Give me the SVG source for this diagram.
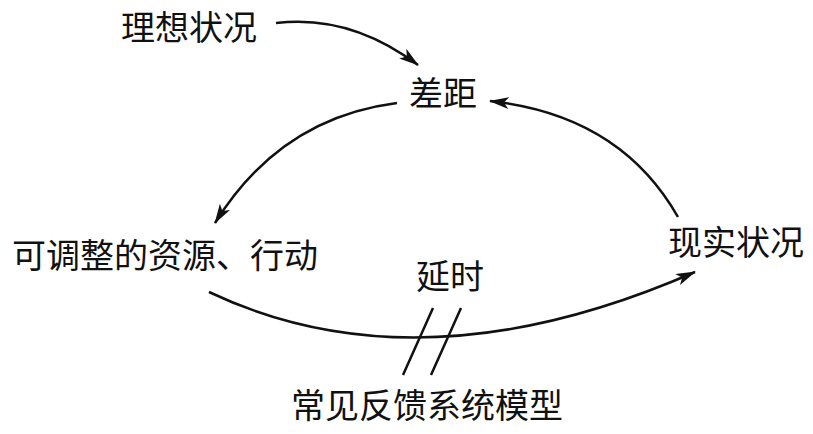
<svg xmlns="http://www.w3.org/2000/svg" width="813" height="434" viewBox="0 0 813 434">
<style>
text{font-family:"Noto Sans CJK SC","Noto Sans",sans-serif;font-size:34px;fill:#111}
.c{fill:none;stroke:#111;stroke-width:2.5}
</style>
<defs>
<marker id="ah" viewBox="0 0 20 12" refX="19" refY="6" markerWidth="20" markerHeight="12" markerUnits="userSpaceOnUse" orient="auto">
<path d="M0,0 L20,6 L0,12 L5,6 Z" fill="#111"/>
</marker>
</defs>
<rect width="813" height="434" fill="#fff"/>
<g id="n-ideal"><text x="121" y="40">理想状况</text></g>
<g id="n-gap"><text x="409" y="106">差距</text></g>
<g id="n-action"><text x="12" y="268">可调整的资源、行动</text></g>
<g id="n-reality"><text x="668" y="255">现实状况</text></g>
<g id="n-delay"><text x="416" y="289">延时</text></g>
<g id="n-title"><text x="291" y="418">常见反馈系统模型</text></g>
<g id="connectors">
<path class="c" d="M276,23 Q350,14 418,65" marker-end="url(#ah)"/>
<path class="c" d="M397,103 Q280,118 215,223" marker-end="url(#ah)"/>
<path class="c" d="M209,292 Q420,392 695,272" marker-end="url(#ah)"/>
<path class="c" d="M678,217 Q620,115 490,101" marker-end="url(#ah)"/>
<path class="c" d="M403,375 L433,308 M431,375 L461,308" stroke-width="2"/>
</g>
</svg>
